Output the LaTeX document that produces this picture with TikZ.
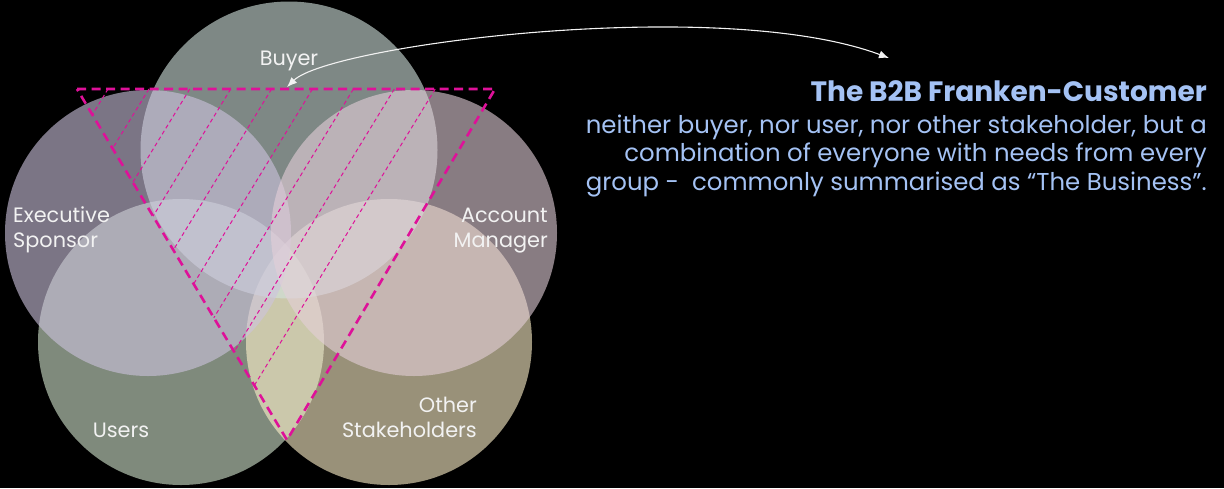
\documentclass[tikz,border=0pt]{standalone}
\usepackage{fontspec}
\setmainfont{Poppins}
\usetikzlibrary{arrows.meta,calc}
\definecolor{cbuyer}{RGB}{210,227,223}
\definecolor{cexec}{RGB}{205,195,222}
\definecolor{cacct}{RGB}{228,207,217}
\definecolor{cusers}{RGB}{212,230,207}
\definecolor{cother}{RGB}{255,242,203}
\definecolor{magentaline}{RGB}{222,17,153}
\definecolor{labelwhite}{RGB}{242,242,242}
\definecolor{bluetext}{RGB}{164,194,244}
\tikzset{
  venn/.style={circle, draw=none, inner sep=0pt, fill opacity=0.6},
  lbl/.style={text=labelwhite, inner sep=0pt, font=\fontsize{20.8}{25}\selectfont},
  tri/.style={draw=magentaline, line width=2.6pt, dash pattern=on 9pt off 5.5pt},
  hatchline/.style={draw=magentaline, line width=1pt, dash pattern=on 4pt off 3pt},
  callout/.style={draw=labelwhite, line width=1.1pt,
    {Latex[length=10pt,width=8pt]}-{Latex[length=10pt,width=8pt]}},
}
\begin{document}
\begin{tikzpicture}[x=1pt,y=-1pt]
\fill[black] (0,0) rectangle (1224,488);
\useasboundingbox (0,0) rectangle (1224,488);
% circles
\node[venn, fill=cusers, minimum size=286pt] (users) at (181,342) {};
\node[venn, fill=cother, minimum size=286pt] (other) at (389,342) {};
\node[venn, fill=cbuyer, minimum size=297pt] (buyer) at (289,150) {};
\node[venn, fill=cexec, minimum size=286pt] (exec) at (148,233) {};
\node[venn, fill=cacct, minimum size=286pt] (acct) at (414,233) {};
% labels (multi-line nodes: base = last line)
\node[lbl, anchor=base] (lbuyer) at (289,65) {Buyer};
\node[lbl, anchor=base west, align=left] (lexec) at (13,247) {Executive\\Sponsor};
\node[lbl, anchor=base east, align=right] (lacct) at (548,247) {Account\\Manager};
\node[lbl, anchor=base] (lusers) at (121,437) {Users};
\node[lbl, anchor=base east, align=right] (lother) at (477,437) {Other\\Stakeholders};
% triangle
\coordinate (TL) at (77,89);
\coordinate (TR) at (495,89);
\coordinate (TB) at (287,440);
\coordinate (tritop) at (287,87);
\foreach \xa/\xb/\yb in {108/92.4/114.7, 148.9/112.6/148.5, 189.8/132.8/182.4,
  230.7/153.1/216.2, 271.6/173.3/250.1, 312.5/193.6/284.0, 353.4/213.8/317.8,
  394.3/234.1/351.7, 435.2/254.3/385.5}
  \draw[hatchline] (\xa,89) -- (\xb,\yb);
\draw[tri] (TL) -- (TR) -- (TB) -- cycle;
% text
\node[anchor=base east, inner sep=0pt, text=bluetext, font=\fontsize{28}{32}\selectfont\bfseries] (title) at (1207,101) {The B2B Franken-Customer};
\node[anchor=base east, inner sep=0pt, text=bluetext, align=right, font=\fontsize{24.4}{28.5}\selectfont] (body) at (1207,190) {neither buyer, nor user, nor other stakeholder, but a\\combination of everyone with needs from every\\group -\ \ commonly summarised as “The Business”.};
\coordinate (arrowend) at (889,58);
\draw[callout] (tritop) .. controls (330,45) and (720,-5) .. (arrowend);
\end{tikzpicture}
\end{document}
